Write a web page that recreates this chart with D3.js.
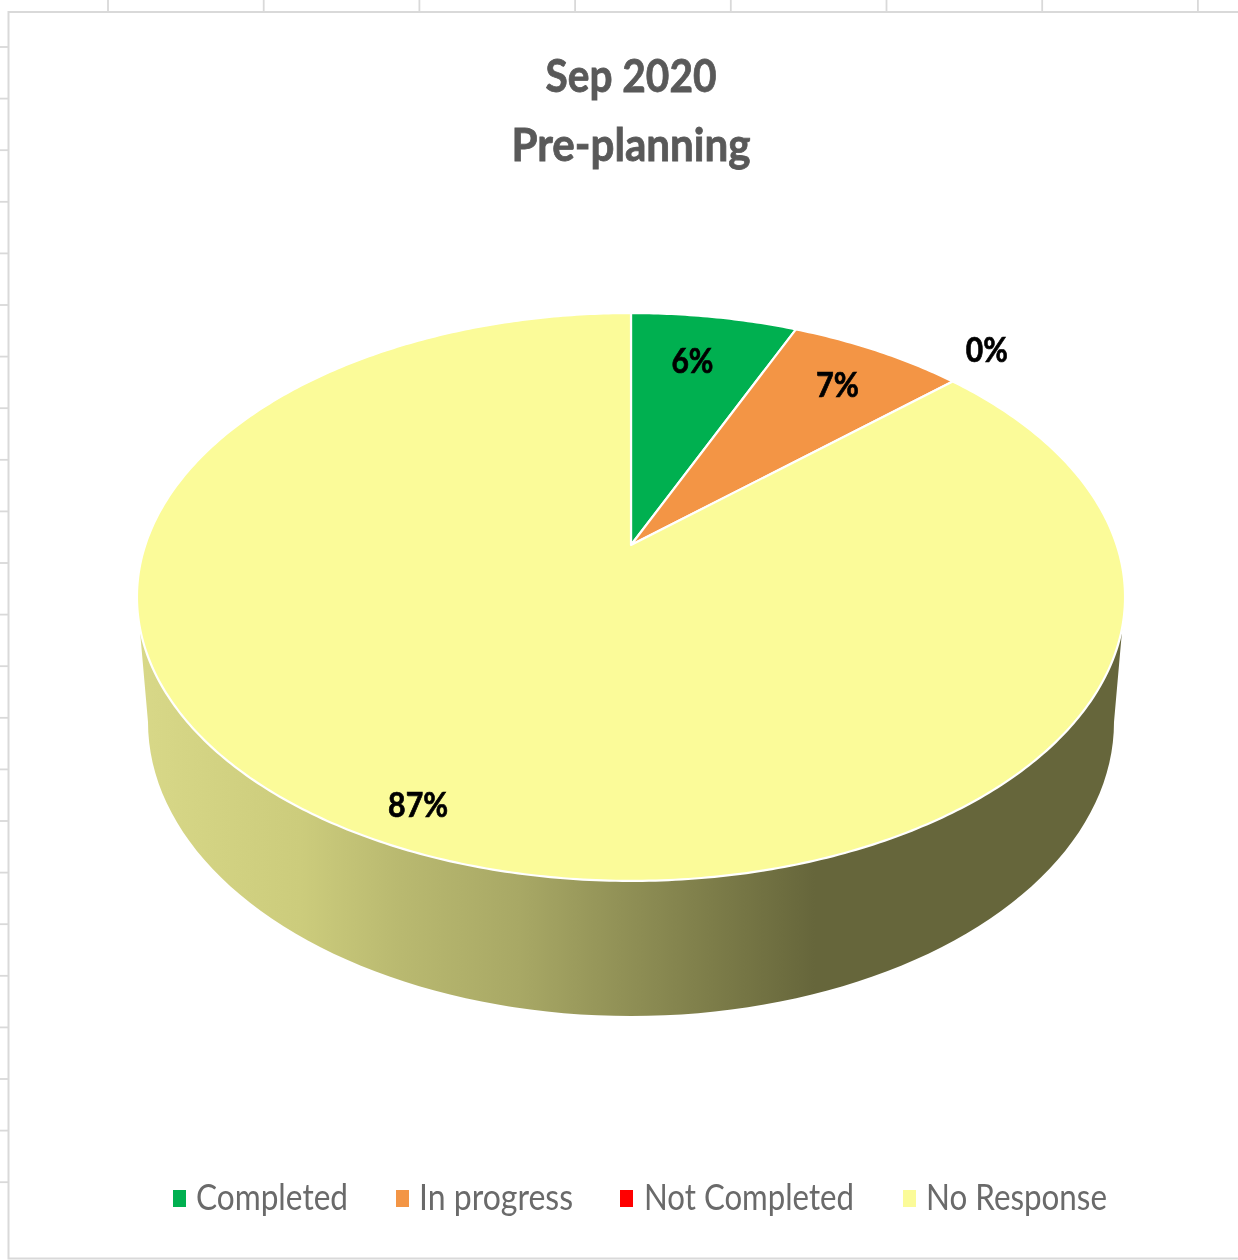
<!DOCTYPE html>
<html>
<head>
<meta charset="utf-8">
<script src="https://d3js.org/d3.v7.min.js"></script>
<style>
html,body{margin:0;padding:0;background:#fff;}
svg{display:block;filter:blur(0.55px);}
text{font-family:Lato,"Open Sans",sans-serif;}
</style>
</head>
<body>
<svg id="chart" width="1238" height="1260"></svg>
<script>
const titleLines = ["Sep 2020", "Pre-planning"];
const categories = ["Completed", "In progress", "Not Completed", "No Response"];
const shares = [0.0649, 0.0685, 0, 0.8666];
const colors = ["#00b050", "#f39545", "#ff0000", "#fbfb99"];

const W = 1238, H = 1260;
const svg = d3.select("#chart").attr("viewBox", [0, 0, W, H]);

// --- spreadsheet grid behind the chart
const gridColor = "#d9d9d9";
const gridX = d3.range(8).map(i => 108 + i * 155.7);
const gridY = d3.range(23).map(i => 47 + i * 51.6);
svg.append("g").selectAll("line").data(gridX).join("line")
  .attr("x1", d => d).attr("x2", d => d).attr("y1", 0).attr("y2", 12)
  .attr("stroke", gridColor).attr("stroke-width", 1.8);
svg.append("g").selectAll("line").data(gridY).join("line")
  .attr("x1", 0).attr("x2", 8).attr("y1", d => d).attr("y2", d => d)
  .attr("stroke", gridColor).attr("stroke-width", 1.8);
svg.append("path")
  .attr("d", `M${W + 2},12H8.5V1258.5H${W + 2}`)
  .attr("fill", "#fff").attr("stroke", gridColor).attr("stroke-width", 2);

// --- perspective projection of the unit disc onto the pie's top face
const cx = 631, apexY = 545, persp = -0.183, rise = 174.7, spread = 485.7;
const project = (r, ang) => {
  const u = r * Math.sin(ang), v = -r * Math.cos(ang);
  const d = 1 + persp * v;
  return [cx + spread * u / d, (apexY + rise * v) / d];
};

const pie = d3.pie().value(d => d).sort(null);
const arcs = pie(shares);

// --- side wall
const base = { cy: 722, rx: 483, ry: 294 };
const topRim = { cy: 597, rx: 494 };
const sideAngles = d3.range(0, 181, 2).map(d => d * Math.PI / 180);
const sidePts = [[cx - topRim.rx, topRim.cy]]
  .concat(sideAngles.map(a => [cx - base.rx * Math.cos(a), base.cy + base.ry * Math.sin(a)]))
  .concat([[cx + topRim.rx, topRim.cy]]);

const defs = svg.append("defs");
const grad = defs.append("linearGradient").attr("id", "wall")
  .attr("gradientUnits", "userSpaceOnUse")
  .attr("x1", 137).attr("x2", 1125).attr("y1", 0).attr("y2", 0);
const wallStops = [[137,"#d8d888"],[300,"#cccc7c"],[400,"#b9b970"],[520,"#a8a865"],[630,"#8f8f55"],[720,"#7b7b48"],[815,"#66663b"],[1125,"#66663b"]];
grad.selectAll("stop").data(wallStops).join("stop")
  .attr("offset", d => (d[0] - 137) / (1125 - 137))
  .attr("stop-color", d => d[1]);

const line = d3.line();
svg.append("path").attr("d", line(sidePts) + "Z").attr("fill", "url(#wall)");

// --- top face slices
const sliceLine = d => {
  const n = Math.max(2, Math.ceil((d.endAngle - d.startAngle) * 90));
  const pts = [project(0, 0)];
  d3.range(n + 1).forEach(i => pts.push(project(1, d.startAngle + (d.endAngle - d.startAngle) * i / n)));
  return line(pts) + "Z";
};
svg.append("g").selectAll("path").data(arcs.filter(d => d.value > 0)).join("path")
  .attr("d", sliceLine)
  .attr("fill", d => colors[d.index])
  .attr("stroke", "#fff").attr("stroke-width", 2.2).attr("stroke-linejoin", "round");

// --- data labels
const labelFmt = d3.format(".0%");
const labelPlace = [
  { r: 0.782, dx: -6, dy: 0, w: 42 },
  { r: 0.804, dx: 3, dy: 0, w: 43 },
  { r: 1.218, dx: -27, dy: 0, w: 42 },
  { r: 0.8835, dx: -8, dy: 0, w: 60 }
];
svg.append("g").selectAll("text").data(arcs).join("text")
  .each(function(d) {
    const p = labelPlace[d.index];
    const [x, y] = project(p.r, (d.startAngle + d.endAngle) / 2);
    d3.select(this).attr("x", x + p.dx - p.w / 2).attr("y", y + p.dy + 12)
      .attr("textLength", p.w).attr("lengthAdjust", "spacingAndGlyphs");
  })
  .attr("font-size", 34).attr("font-weight", 700).attr("fill", "#000")
  .attr("stroke", "#000").attr("stroke-width", 0.7)
  .text(d => labelFmt(d.value));

// --- title
const titleW = [171, 239];
svg.append("g").selectAll("text").data(titleLines).join("text")
  .attr("x", (d, i) => 631 - titleW[i] / 2)
  .attr("y", (d, i) => 92 + i * 69)
  .attr("textLength", (d, i) => titleW[i]).attr("lengthAdjust", "spacingAndGlyphs")
  .attr("font-size", 46).attr("font-weight", 700).attr("fill", "#595959")
  .attr("stroke", "#595959").attr("stroke-width", 0.8)
  .text(d => d);

// --- legend
const legendSwatchX = [173, 396, 620, 903];
const legendTextX = [196, 419, 644, 926];
const legendTextW = [152, 154, 210, 181];
const legend = svg.append("g").selectAll("g").data(categories).join("g");
legend.append("rect")
  .attr("x", (d, i) => legendSwatchX[i]).attr("y", 1190)
  .attr("width", 13).attr("height", 17)
  .attr("fill", (d, i) => colors[i]);
legend.append("text")
  .attr("x", (d, i) => legendTextX[i]).attr("y", 1210)
  .attr("textLength", (d, i) => legendTextW[i]).attr("lengthAdjust", "spacingAndGlyphs")
  .attr("font-size", 37).attr("fill", "#6a6a6a")
  .text(d => d);
</script>
</body>
</html>
